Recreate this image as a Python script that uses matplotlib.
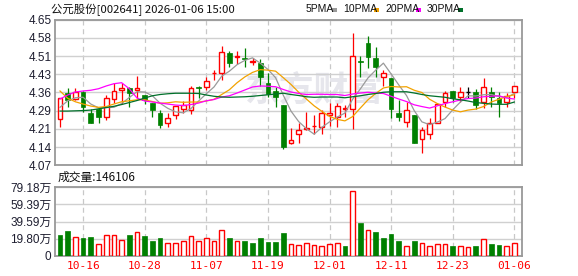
#!/usr/bin/env python3
# -*- coding: utf-8 -*-

import matplotlib

matplotlib.use("Agg")
import matplotlib.pyplot as plt
from matplotlib.patches import Rectangle
import numpy as np
import pandas as pd

TITLE = "公元股份[002641] 2026-01-06 15:00"
VOL_TITLE = "成交量:146106"
WATERMARK = "东方财富"

# trading days shown (Oct 13 2025 .. Jan 6 2026, New Year holiday skipped)
start_day = "2025-10-13"
end_day = "2026-01-06"
holidays = ["2026-01-01", "2026-01-02"]

opens = [4.253, 4.357, 4.333, 4.363, 4.277, 4.293, 4.261, 4.333, 4.369, 4.378,
         4.369, 4.349, 4.317, 4.277, 4.240, 4.270, 4.293, 4.290, 4.383, 4.383,
         4.437, 4.439, 4.516, 4.502, 4.496, 4.481, 4.476, 4.399, 4.366, 4.310,
         4.160, 4.195, 4.213, 4.226, 4.221, 4.270, 4.261, 4.295, 4.293, 4.487,
         4.556, 4.496, 4.420, 4.416, 4.280, 4.241, 4.270, 4.173, 4.195, 4.240,
         4.321, 4.366, 4.341, 4.363, 4.363, 4.321, 4.363, 4.337, 4.321, 4.361]
highs = [4.340, 4.377, 4.377, 4.367, 4.293, 4.300, 4.349, 4.397, 4.397, 4.380,
         4.426, 4.350, 4.317, 4.290, 4.277, 4.306, 4.327, 4.386, 4.384, 4.423,
         4.450, 4.545, 4.527, 4.527, 4.536, 4.496, 4.492, 4.439, 4.383, 4.310,
         4.217, 4.237, 4.284, 4.270, 4.290, 4.317, 4.320, 4.310, 4.596, 4.505,
         4.585, 4.543, 4.450, 4.416, 4.330, 4.323, 4.270, 4.224, 4.257, 4.320,
         4.367, 4.366, 4.380, 4.380, 4.373, 4.416, 4.383, 4.363, 4.359, 4.386]
lows = [4.221, 4.301, 4.330, 4.284, 4.240, 4.240, 4.250, 4.317, 4.314, 4.301,
        4.337, 4.314, 4.261, 4.217, 4.221, 4.253, 4.277, 4.274, 4.337, 4.370,
        4.410, 4.410, 4.460, 4.474, 4.463, 4.470, 4.386, 4.343, 4.301, 4.134,
        4.155, 4.160, 4.211, 4.195, 4.195, 4.226, 4.221, 4.261, 4.213, 4.420,
        4.456, 4.420, 4.386, 4.257, 4.248, 4.221, 4.160, 4.120, 4.173, 4.240,
        4.304, 4.323, 4.323, 4.337, 4.293, 4.297, 4.301, 4.261, 4.301, 4.337]
closes = [4.337, 4.330, 4.363, 4.301, 4.240, 4.261, 4.337, 4.365, 4.377, 4.359,
          4.377, 4.330, 4.290, 4.230, 4.257, 4.306, 4.310, 4.377, 4.378, 4.406,
          4.439, 4.523, 4.479, 4.506, 4.494, 4.487, 4.420, 4.354, 4.341, 4.142,
          4.171, 4.211, 4.217, 4.228, 4.277, 4.280, 4.308, 4.297, 4.505, 4.482,
          4.500, 4.460, 4.436, 4.293, 4.261, 4.290, 4.160, 4.211, 4.237, 4.314,
          4.357, 4.337, 4.363, 4.363, 4.310, 4.383, 4.343, 4.319, 4.347, 4.386]
prev_close = 4.350  # close of the day before the first candle

# volume in 万手
volumes = [24.3, 28.9, 21.7, 20.9, 22.1, 13.7, 23.9, 23.9, 18.3, 24.3,
           27.4, 23.2, 17.5, 20.9, 14.8, 14.8, 17.1, 22.8, 17.1, 20.5,
           17.1, 29.7, 20.9, 17.1, 17.5, 15.2, 20.9, 16.3, 16.3, 26.6,
           13.7, 12.5, 14.8, 12.5, 11.4, 13.7, 14.8, 11.8, 74.6, 38.0,
           30.1, 27.8, 20.9, 25.5, 17.5, 11.4, 17.5, 14.8, 11.4, 13.7,
           13.7, 11.4, 11.4, 10.6, 11.8, 19.4, 14.0, 12.9, 11.4, 14.61]

ma5 = [4.301, 4.327, 4.339, 4.341, 4.314, 4.299, 4.300, 4.301, 4.316, 4.340,
       4.363, 4.362, 4.347, 4.317, 4.297, 4.283, 4.279, 4.296, 4.326, 4.355,
       4.382, 4.425, 4.445, 4.471, 4.488, 4.498, 4.477, 4.452, 4.419, 4.349,
       4.286, 4.244, 4.216, 4.194, 4.221, 4.243, 4.262, 4.278, 4.333, 4.374,
       4.418, 4.449, 4.477, 4.434, 4.390, 4.348, 4.288, 4.243, 4.232, 4.242,
       4.256, 4.291, 4.322, 4.347, 4.346, 4.351, 4.352, 4.344, 4.340, 4.356]
ma10 = [4.366, 4.337, 4.323, 4.314, 4.306, 4.301, 4.304, 4.314, 4.323, 4.327,
        4.331, 4.331, 4.324, 4.317, 4.319, 4.323, 4.321, 4.322, 4.322, 4.326,
        4.333, 4.352, 4.371, 4.399, 4.422, 4.440, 4.451, 4.449, 4.445, 4.419,
        4.392, 4.361, 4.334, 4.307, 4.285, 4.265, 4.253, 4.247, 4.264, 4.298,
        4.331, 4.356, 4.378, 4.384, 4.382, 4.383, 4.369, 4.360, 4.333, 4.316,
        4.302, 4.290, 4.283, 4.290, 4.294, 4.304, 4.322, 4.333, 4.344, 4.351]
ma20 = [4.334, 4.350, 4.362, 4.366, 4.369, 4.375, 4.386, 4.395, 4.399, 4.375,
        4.338, 4.326, 4.322, 4.318, 4.314, 4.310, 4.308, 4.312, 4.318, 4.327,
        4.332, 4.342, 4.347, 4.358, 4.370, 4.382, 4.386, 4.385, 4.383, 4.372,
        4.362, 4.356, 4.352, 4.353, 4.353, 4.352, 4.352, 4.348, 4.354, 4.358,
        4.361, 4.358, 4.356, 4.345, 4.334, 4.324, 4.311, 4.304, 4.298, 4.307,
        4.316, 4.323, 4.330, 4.336, 4.338, 4.343, 4.345, 4.347, 4.338, 4.334]
ma30 = [4.286, 4.286, 4.287, 4.288, 4.290, 4.295, 4.300, 4.305, 4.312, 4.320,
        4.328, 4.338, 4.347, 4.352, 4.355, 4.357, 4.357, 4.357, 4.356, 4.350,
        4.345, 4.342, 4.341, 4.342, 4.343, 4.345, 4.348, 4.351, 4.354, 4.357,
        4.352, 4.348, 4.343, 4.341, 4.342, 4.342, 4.342, 4.339, 4.343, 4.347,
        4.352, 4.356, 4.361, 4.363, 4.363, 4.363, 4.358, 4.352, 4.347, 4.344,
        4.341, 4.335, 4.331, 4.326, 4.320, 4.317, 4.314, 4.313, 4.313, 4.322]

ma_names = ["5PMA", "10PMA", "20PMA", "30PMA"]
ma_colors = ["#9a9a9a", "#f2a200", "#ff00ff", "#00702a"]

price_ticks = [4.07, 4.1425, 4.215, 4.2875, 4.36, 4.4325, 4.505, 4.5775, 4.65]
price_labels = ["4.07", "4.14", "4.21", "4.29", "4.36", "4.43", "4.51", "4.58", "4.65"]
vol_ticks = [0, 19.795, 39.59, 59.385, 79.18]
vol_labels = ["0", "19.80万", "39.59万", "59.39万", "79.18万"]
date_labels = ["10-16", "10-28", "11-07", "11-19", "12-01", "12-11", "12-23", "01-06"]

RED = "#ff0000"
GREEN = "#008000"
FRAME = "#999999"
GRID = "#d0d0d0"
W, H = 578, 276


def _style_axes(ax):
    for sp in ax.spines.values():
        sp.set_color(FRAME)
        sp.set_linewidth(1.3)
    ax.tick_params(length=0, pad=2.5, colors="#1e1e30", labelsize=8.5)
    ax.set_axisbelow(True)
    ax.yaxis.grid(True, color=GRID, lw=1.0)
    ax.xaxis.grid(True, color="#c8c8c8", lw=0.9, ls=(0, (4, 3)))


def main():
    plt.rcParams["font.family"] = ["Liberation Sans", "Noto Sans CJK SC"]
    days = pd.bdate_range(start_day, end_day, freq="C", holidays=holidays)
    md = list(days.strftime("%m-%d"))
    tick_pos = [md.index(d) for d in date_labels]

    o = np.array(opens)
    h = np.array(highs)
    l = np.array(lows)
    c = np.array(closes)
    x = np.arange(len(c))
    xlim = (-0.65, len(c) - 0.0)

    fig = plt.figure(figsize=(W / 100, H / 100), dpi=100)
    ax = fig.add_axes([55 / W, 1 - 165.3 / H, 467 / W, 145.6 / H])
    axv = fig.add_axes([55 / W, 1 - 256 / H, 467 / W, 69 / H])

    # --- price panel
    _style_axes(ax)
    ax.set_xlim(*xlim)
    ax.set_ylim(price_ticks[0], price_ticks[-1])
    ax.set_yticks(price_ticks)
    ax.set_yticklabels(price_labels)
    ax.set_xticks(tick_pos)
    ax.set_xticklabels([])

    ax.text(0.555, 0.52, WATERMARK, transform=ax.transAxes, ha="center", va="center",
            fontsize=25, fontweight="bold", color="#e6e6ec", family="Noto Sans CJK SC", zorder=0)

    bw = 0.62
    for i in x:
        if c[i] > o[i]:
            col = RED
        elif c[i] < o[i]:
            col = GREEN
        else:
            col = "#000000"
        ax.vlines(i, l[i], h[i], color=col, lw=0.9, zorder=2)
        if c[i] == o[i]:
            ax.hlines(c[i], i - bw / 2, i + bw / 2, color=col, lw=1.0, zorder=3)
        elif c[i] > o[i]:
            ax.bar(i, c[i] - o[i], bottom=o[i], width=bw, facecolor="white",
                   edgecolor=col, lw=1.0, zorder=3)
        else:
            ax.bar(i, o[i] - c[i], bottom=c[i], width=bw, facecolor=col,
                   edgecolor=col, lw=0.5, zorder=3)

    for vals, col in zip([ma5, ma10, ma20, ma30], ma_colors):
        ax.plot(x, vals, color=col, lw=0.9, zorder=4)

    # --- volume panel
    _style_axes(axv)
    axv.set_xlim(*xlim)
    axv.set_ylim(vol_ticks[0], vol_ticks[-1])
    axv.set_yticks(vol_ticks)
    axv.set_yticklabels(vol_labels)
    axv.set_xticks(tick_pos)
    axv.set_xticklabels(date_labels, color=RED, fontsize=8, family="DejaVu Sans Mono")
    axv.tick_params(axis="x", pad=3.5)

    prev = np.concatenate([[prev_close], c[:-1]])
    for i in x:
        if c[i] >= prev[i]:
            axv.bar(i, volumes[i], width=bw, facecolor="white", edgecolor=RED, lw=1.0, zorder=3)
        else:
            axv.bar(i, volumes[i], width=bw, facecolor=GREEN, edgecolor=GREEN, lw=0.5, zorder=3)

    # --- header texts
    fig.text(51 / W, 1 - 9.5 / H, TITLE, ha="left", va="center", fontsize=8.2,
             family=["Noto Sans CJK SC"], color="#111111")
    lx = [306, 343, 385, 427]
    for name, col, px in zip(ma_names, ma_colors, lx):
        t = fig.text(px / W, 1 - 9.5 / H, name, ha="left", va="center", fontsize=7.5,
                     color="#111111")
        fig.add_artist(Rectangle(((px + 26 + 5 * (len(name) - 4)) / W, 1 - 11.5 / H), 5 / W, 4 / H,
                                 transform=fig.transFigure, facecolor=col, edgecolor="none"))
    fig.text(58 / W, 1 - 177 / H, VOL_TITLE, ha="left", va="center", fontsize=8.5,
             family=["Noto Sans CJK SC"], color="#111111")

    fig.savefig("out.png", dpi=100)
    plt.close(fig)


if __name__ == "__main__":
    main()
